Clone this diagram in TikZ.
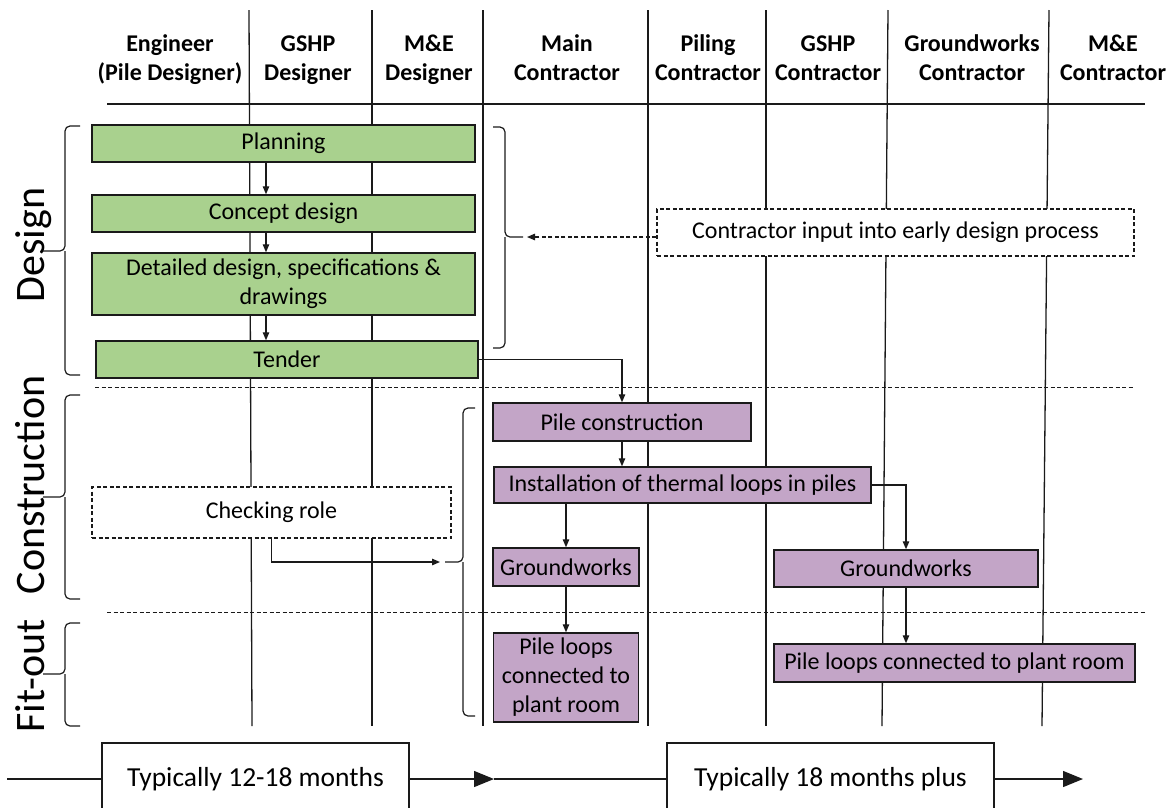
\documentclass[tikz,border=0pt]{standalone}
\usepackage{fontspec}
\setmainfont{Carlito}
\usetikzlibrary{arrows.meta,positioning,calc}
\definecolor{phgreen}{HTML}{A9D18E}
\definecolor{phpurple}{HTML}{C3A5C7}
\definecolor{phline}{HTML}{1A1A1A}
% brace: tip x, spine x, top y, mid y, bottom y, point x
\newcommand{\phbrace}[6]{\draw[brace] (#1,#3) -| (#2,#4) -- (#6,#4) (#2,#4) |- (#1,#5);}

\tikzset{
  head/.style={align=center,inner sep=0pt,anchor=north,
    font=\fontsize{24}{29}\selectfont\bfseries},
  lane/.style={phline,line width=1.3pt},
  task/.style={draw=phline,line width=1.5pt,inner sep=0pt,align=center,
    font=\fontsize{24}{29}\selectfont},
  dtask/.style={task,fill=phgreen},
  ctask/.style={task,fill=phpurple},
  note/.style={task,fill=white,line width=1.1pt,dash pattern=on 4pt off 2.5pt},
  span/.style={task,fill=white,font=\fontsize{27.5}{30}\selectfont},
  flow/.style={phline,line width=1.2pt,-{Triangle[length=8pt,width=6.5pt]}},
  bigflow/.style={phline,line width=1.3pt,-{Triangle[length=20pt,width=16pt]}},
  phase/.style={rotate=90,anchor=base,inner sep=0pt,
    font=\fontsize{42}{42}\selectfont},
  brace/.style={phline,line width=1.2pt,rounded corners=5pt},
  sep/.style={phline,line width=1pt,dash pattern=on 4pt off 2.5pt},
}

\begin{document}
\begin{tikzpicture}[x=1pt,y=-1pt]
  \useasboundingbox (0,0) rectangle (1169,807);

  % swim lanes
  \foreach \a/\b in {249/252,372/372,648/648,766/766,888/882,1049/1042}
    {\draw[lane] (\a,10) -- (\b,726);}
  \draw[phline,line width=2.6pt] (483,10) -- (483,726);
  \draw[phline,line width=2.6pt] (107,104) -- (1145,104);
  \foreach \x/\n/\lbl in {170/eng/{Engineer\\(Pile Designer)},
      308/gshpd/{GSHP\\Designer},429/med/{M\&E\\Designer},
      567/mainc/{Main\\Contractor},708/pilc/{Piling\\Contractor},
      828/gshpc/{GSHP\\Contractor},972/gwc/{Groundworks\\Contractor},
      1113/mec/{M\&E\\Contractor}}
    {\node[head] (\n) at (\x,33) {\rule{0pt}{18pt}\lbl};}

  % phase separators
  \draw[sep] (95,387) -- (1133,387);
  \draw[sep] (107,612) -- (1146,612);

  % phases
  \node[phase] (design) at (44,245) {Design};
  \node[phase] (constr) at (44,485) {Construction};
  \node[phase] (fitout) at (44,676) {Fit-out};
  \phbrace{80}{65}{126}{251}{375}{43}
  \phbrace{80}{65}{395}{497}{599}{43}
  \phbrace{80}{65}{623}{674}{726}{43}
  \phbrace{493}{505}{127}{237}{348}{523}
  \phbrace{475}{463}{408}{562}{716}{445}

  % design tasks
  \node[dtask,minimum width=383pt,minimum height=37pt] (plan) at (283.5,143.5) {Planning};
  \node[dtask,minimum width=383pt,minimum height=37pt] (concept) at (283.5,213.5) {Concept design};
  \node[dtask,minimum width=383pt,minimum height=62pt] (detail) at (283.5,284)
    {\rule{0pt}{17pt}Detailed design, specifications \&\\drawings};
  \node[dtask,minimum width=382pt,minimum height=37pt] (tender) at (287,359.5) {Tender};
  \coordinate (dcol) at (266,0);
  \draw[flow] (plan.south -| dcol) -- (concept.north -| dcol);
  \draw[flow] (concept.south -| dcol) -- (detail.north -| dcol);
  \draw[flow] (detail.south -| dcol) -- (tender.north -| dcol);

  % contractor input
  \node[note,minimum width=477pt,minimum height=47pt] (input) at (895.5,232.5)
    {Contractor input into early design process};
  \coordinate (inputtip) at (527,237);
  \draw[flow,dash pattern=on 4pt off 2.5pt] (input.west |- inputtip) -- (inputtip);

  % construction tasks
  \node[note,minimum width=359pt,minimum height=51pt] (check) at (271.5,512.5) {Checking role};
  \coordinate (checktip) at (440,562);
  \draw[flow] (check.south) |- (checktip);
  \node[ctask,minimum width=258pt,minimum height=38pt] (pilecon) at (622,422) {Pile construction};
  \node[ctask,minimum width=377pt,minimum height=36pt] (install) at (682.5,485)
    {Installation of thermal loops in piles};
  \node[ctask,minimum width=146pt,minimum height=38pt] (gwa) at (566,567) {Groundworks};
  \node[ctask,minimum width=264pt,minimum height=37pt] (gwb) at (906,568.5) {Groundworks};
  \node[ctask,minimum width=145pt,minimum height=89pt] (loopsa) at (566,677.5)
    {Pile loops\\connected to\\plant room};
  \node[ctask,minimum width=361pt,minimum height=38pt] (loopsb) at (954.5,663)
    {Pile loops connected to plant room};
  \draw[flow] (tender.east) -| (pilecon.north);
  \draw[flow] (pilecon.south) -- (pilecon.south |- install.north);
  \draw[flow] (install.south -| gwa.north) -- (gwa.north);
  \draw[flow] (install.east) -| (gwb.north);
  \draw[flow] (gwa.south) -- (gwa.south |- loopsa.north);
  \draw[flow] (gwb.south) -- (gwb.south |- loopsb.north);

  % time line
  \node[span,minimum width=307pt,minimum height=72pt] (spana) at (255.5,779) {Typically 12-18 months};
  \node[span,minimum width=327pt,minimum height=72pt] (spanb) at (830.5,779) {Typically 18 months plus};
  \coordinate (tl0) at (7,779);
  \coordinate (tlmid) at (494,779);
  \coordinate (tlend) at (1083,779);
  \draw[phline,line width=1.3pt] (tl0) -- (spana.west);
  \draw[bigflow] (spana.east) -- (tlmid);
  \draw[phline,line width=1.3pt] (tlmid) -- (spanb.west);
  \draw[bigflow] (spanb.east) -- (tlend);
\end{tikzpicture}
\end{document}
